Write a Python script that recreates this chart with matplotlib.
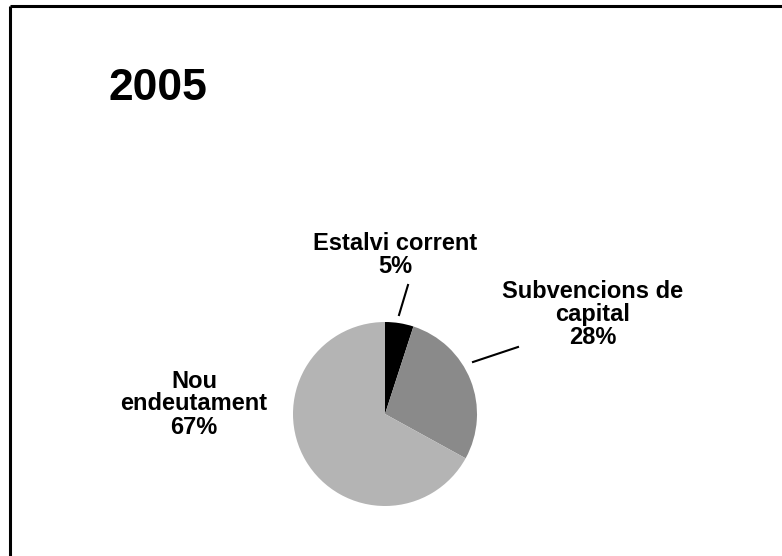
import matplotlib.pyplot as plt

plt.rcParams['font.family'] = ['Liberation Sans', 'DejaVu Sans']

# data
year = '2005'
labels = ['Estalvi corrent', 'Subvencions de\ncapital', 'Nou\nendeutament']
shares = [5, 28, 67]
colors = ['#000000', '#8a8a8a', '#b4b4b4']

W, H = 782, 556

fig = plt.figure(figsize=(W / 100, H / 100), dpi=100)
ax = fig.add_axes([0, 0, 1, 1])
ax.set_xlim(0, W)
ax.set_ylim(0, H)
ax.set_aspect('equal')
ax.axis('off')

# pie, centre given in pixel coords (y flipped)
cx, cy, r = 385, H - 414, 92
ax.pie(shares, colors=colors, startangle=90, counterclock=False,
       center=(cx, cy), radius=r, wedgeprops=dict(linewidth=0))
ax.set_xlim(0, W)
ax.set_ylim(0, H)

# frame (top and left only)
ax.plot([10, W], [H - 6, H - 6], color='black', lw=2.2, solid_capstyle='butt')
ax.plot([10, 10], [H - 6, 0], color='black', lw=2.2, solid_capstyle='butt')

ax.text(109, H - 88, year, fontsize=32, fontweight='bold', ha='left', va='center')

txt = dict(fontsize=17, fontweight='bold', ha='center', va='center', linespacing=1.0)
ax.text(395, H - 255, f'{labels[0]}\n{shares[0]}%', **txt)
ax.text(593, H - 315, f'{labels[1]}\n{shares[1]}%', **txt)
ax.text(194, H - 404, f'{labels[2]}\n{shares[2]}%', **txt)

# leader lines
ax.plot([399, 408], [H - 315, H - 285], color='black', lw=1.5)
ax.plot([473, 518], [H - 362, H - 347], color='black', lw=1.5)

fig.savefig('out.png', dpi=100)
